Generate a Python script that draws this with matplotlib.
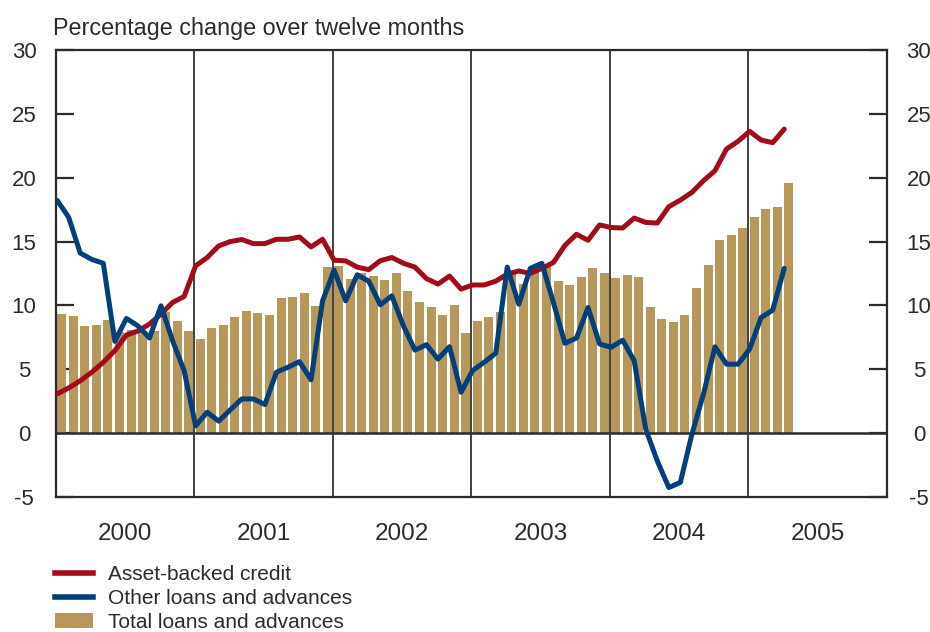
import numpy as np
import matplotlib.pyplot as plt
from matplotlib.patches import Patch
from matplotlib.lines import Line2D

# monthly data, Jan 2000 - Apr 2005 (percentage change over twelve months)
start_year = 2000
asset_backed = [3.07, 3.54, 4.1, 4.77, 5.55, 6.46, 7.68, 8.0, 8.54, 9.32, 10.23, 10.7,
                13.1, 13.75, 14.66, 15.0, 15.16, 14.84, 14.84, 15.18, 15.18, 15.36, 14.58, 15.18,
                13.54, 13.49, 13.0, 12.8, 13.5, 13.75, 13.3, 13.0, 12.1, 11.67, 12.3, 11.28,
                11.6, 11.6, 11.9, 12.45, 12.7, 12.5, 12.9, 13.36, 14.7, 15.57, 15.1, 16.3,
                16.1, 16.06, 16.84, 16.5, 16.45, 17.73, 18.25, 18.85, 19.76, 20.55, 22.25, 22.85,
                23.63, 22.95, 22.74, 23.8]
other_loans = [18.23, 16.9, 14.1, 13.6, 13.3, 7.19, 8.98, 8.4, 7.45, 9.97, 7.24, 4.9,
               0.57, 1.64, 0.94, 1.82, 2.68, 2.68, 2.24, 4.77, 5.16, 5.6, 4.17, 10.36,
               12.76, 10.36, 12.4, 11.9, 10.05, 10.75, 8.41, 6.5, 6.93, 5.8, 6.77, 3.2,
               4.9, 5.55, 6.25, 13.0, 10.1, 12.9, 13.3, 10.23, 7.03, 7.45, 9.84, 6.98,
               6.72, 7.28, 5.67, 0.31, -2.17, -4.26, -3.86, -0.08, 3.05, 6.76, 5.4, 5.4,
               6.58, 9.06, 9.63, 12.9]
total_loans = [9.35, 9.19, 8.41, 8.49, 8.88, 7.9, 8.1, 8.0, 8.0, 9.5, 8.8, 8.0,
               7.4, 8.26, 8.49, 9.11, 9.58, 9.43, 9.27, 10.55, 10.68, 10.99, 9.97, 13.02,
               13.1, 12.1, 12.5, 12.3, 12.0, 12.5, 11.1, 10.3, 9.84, 9.22, 10.0, 7.81,
               8.75, 9.06, 9.45, 12.7, 11.7, 12.6, 13.0, 11.9, 11.6, 12.2, 12.9, 12.5,
               12.17, 12.4, 12.25, 9.9, 8.96, 8.72, 9.27, 11.38, 13.19, 15.14, 15.54, 16.08,
               16.95, 17.57, 17.73, 19.6]
years = [2000, 2001, 2002, 2003, 2004, 2005]
yticks = [-5, 0, 5, 10, 15, 20, 25, 30]
labels = ["Asset-backed credit", "Other loans and advances", "Total loans and advances"]

RED = "#A00C18"
BLUE = "#00407A"
GOLD = "#B7975A"
TXT = "#2b2b2b"

plt.rcParams['font.family'] = ['Liberation Sans', 'DejaVu Sans']

n = len(total_loans)
idx = np.arange(n)
x_bar = start_year + (idx + 0.5) / 12
x_line = start_year + (idx + 0.1) / 12

fig = plt.figure(figsize=(9.3, 6.32), dpi=100)
ax = fig.add_axes([0.0602, 0.2136, 0.8935, 0.7073])

ax.bar(x_bar, total_loans, width=0.78 / 12, color=GOLD, zorder=2)
ax.plot(x_line, asset_backed, color=RED, lw=3.6, solid_capstyle='round', solid_joinstyle='round', zorder=4)
ax.plot(x_line, other_loans, color=BLUE, lw=3.6, solid_capstyle='round', solid_joinstyle='round', zorder=4)

ax.axhline(0, color=TXT, lw=1.8, zorder=3)
for y in years[1:]:
    ax.axvline(y, color="#333333", lw=1.3, zorder=3)

ax.set_xlim(2000, 2006)
ax.set_ylim(-5, 30)

# years centred in their band
ax.set_xticks([y + 0.5 for y in years])
ax.set_xticklabels([str(y) for y in years])
ax.tick_params(axis='x', length=0, pad=19, labelsize=17.5, labelcolor=TXT)

ax.set_yticks(yticks)
ax.set_yticklabels([str(v) for v in yticks])
ax.tick_params(axis='y', direction='in', length=13, width=1.6, color=TXT,
               left=True, right=True, labelleft=True, labelright=True,
               labelsize=16, labelcolor=TXT, pad=23)
for t in ax.yaxis.get_major_ticks():
    t.label1.set_horizontalalignment('center')
    t.label2.set_horizontalalignment('center')

for s in ax.spines.values():
    s.set_color(TXT)
    s.set_linewidth(1.6)

fig.text(53 / 930, 1 - 28 / 632, "Percentage change over twelve months",
         fontsize=16.8, color=TXT, va='center', ha='left')

handles = [Line2D([], [], color=RED, lw=4),
           Line2D([], [], color=BLUE, lw=4),
           Patch(facecolor=GOLD, edgecolor='none')]
leg = fig.legend(handles, labels, loc='upper left', bbox_to_anchor=(0.059, 0.106),
                 frameon=False, fontsize=15, handlelength=1.83, handleheight=0.75,
                 handletextpad=0.72, labelspacing=0.24, borderpad=0, borderaxespad=0)
for t in leg.get_texts():
    t.set_color(TXT)

fig.savefig("out.png", dpi=100)
